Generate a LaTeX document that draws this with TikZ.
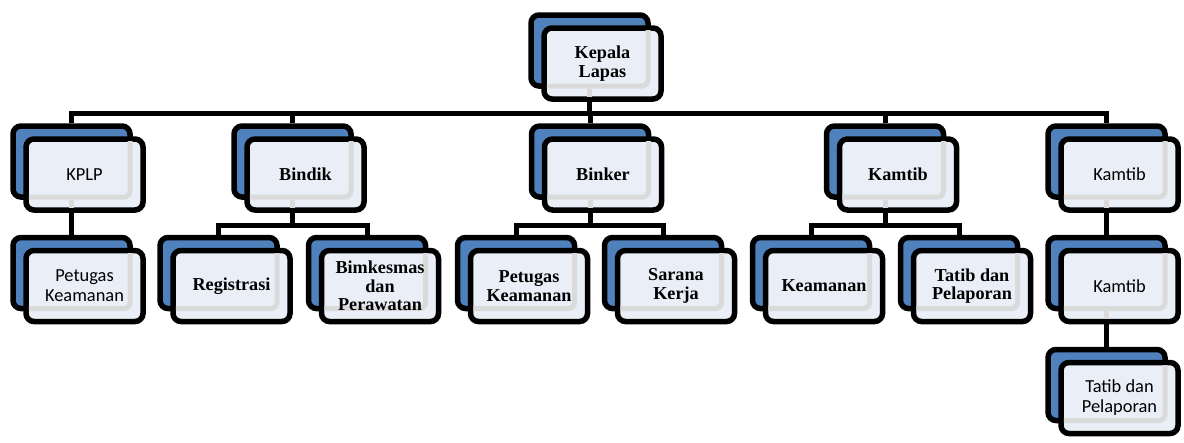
\documentclass[tikz,border=0pt]{standalone}
\usepackage{fontspec}
\setmainfont{Liberation Serif}
\newfontfamily\calfont{Carlito}
\usetikzlibrary{backgrounds,calc}
\definecolor{boxblue}{RGB}{79,129,189}
\definecolor{boxfront}{RGB}{234,239,247}
\definecolor{ghostgray}{RGB}{218,218,218}
\tikzset{
  backbox/.style={draw=black, line width=5.5pt, rounded corners=8pt, fill=boxblue,
    minimum width=117pt, minimum height=71pt, inner sep=0pt},
  frontbox/.style={draw=black, line width=5.5pt, rounded corners=8pt, fill=boxfront,
    minimum width=117pt, minimum height=71pt, inner sep=0pt},
  boxtext/.style={align=center, inner sep=0pt},
  serifbold/.style={font=\fontsize{18.2}{18.5}\selectfont\bfseries},
  sanslabel/.style={font=\calfont\fontsize{18.4}{20}\selectfont},
  conn/.style={draw=black, line width=5pt},
  ghost/.style={draw=ghostgray, line width=5pt, rounded corners=6pt},
}
% #1 name, #2 #3 centre of the back box, #4 text, #5 font style, #6 1 = has a child below
\newcommand\orgunit[6]{%
  \node[backbox] (#1-b) at (#2,#3) {};
  \node[frontbox] (#1) at (#2+13,#3+13) {};
  \begin{scope}
    \clip ([shift={(5.5pt,5.5pt)}]#1.south west) rectangle ([shift={(-5.5pt,-5.5pt)}]#1.north east);
    \draw[ghost] ([shift={(2.75pt,2.75pt)}]#1-b.south west) rectangle ([shift={(-2.75pt,-2.75pt)}]#1-b.north east);
    \ifnum#6=1
      \draw[ghost] (#1-b.south) -- (#1-b.south |- #1.south);
    \fi
  \end{scope}
  \node[boxtext,#5] (#1-t) at (#1.center) {#4};
}
\begin{document}
\begin{tikzpicture}[x=1pt,y=-1pt]
\useasboundingbox (0,0) rectangle (1184,442);
% top
\orgunit{kl}{589.5}{50.5}{Kepala\\Lapas}{serifbold}{1}
% row 2
\orgunit{kplp}{71.5}{161.5}{KPLP}{sanslabel}{1}
\orgunit{bindik}{292.5}{161.5}{Bindik}{serifbold}{1}
\orgunit{binker}{590}{161.5}{Binker}{serifbold}{1}
\orgunit{kamtibD}{885}{161.5}{Kamtib}{serifbold}{1}
\orgunit{kamtibE}{1106.5}{161.5}{Kamtib}{sanslabel}{1}
% row 3
\orgunit{pk1}{71.5}{273}{Petugas\\Keamanan}{sanslabel}{0}
\orgunit{reg}{218.5}{273}{Registrasi}{serifbold}{0}
\orgunit{bimk}{367}{273}{Bimkesmas\\dan\\Perawatan}{serifbold}{0}
\orgunit{pk2}{516}{273}{Petugas\\Keamanan}{serifbold}{0}
\orgunit{sk}{663}{273}{Sarana\\Kerja}{serifbold}{0}
\orgunit{keam}{811}{273}{Keamanan}{serifbold}{0}
\orgunit{tatibD}{959}{273}{Tatib dan\\Pelaporan}{serifbold}{0}
\orgunit{kamtibc}{1106.5}{273}{Kamtib}{sanslabel}{1}
% row 4
\orgunit{tatibc}{1106.5}{385}{Tatib dan\\Pelaporan}{sanslabel}{0}
\begin{pgfonlayer}{background}
  \coordinate (busA) at (0,113);
  \coordinate (busB) at (0,225);
  \draw[conn] (kl-b.center) -- (kl-b.center |- busA);
  \draw[conn] (kplp-b.north) |- (busA -| kamtibE-b.north) -- (kamtibE-b.north);
  \draw[conn] (bindik-b.north) -- (bindik-b.north |- busA);
  \draw[conn] (binker-b.north) -- (binker-b.north |- busA);
  \draw[conn] (kamtibD-b.north) -- (kamtibD-b.north |- busA);
  % KPLP
  \draw[conn] (kplp-b.center) -- (pk1-b.north);
  % Bindik
  \draw[conn] (bindik-b.center) -- (bindik-b.center |- busB);
  \draw[conn] (reg-b.north) |- (busB -| bimk-b.north) -- (bimk-b.north);
  % Binker
  \draw[conn] (binker-b.center) -- (binker-b.center |- busB);
  \draw[conn] (pk2-b.north) |- (busB -| sk-b.north) -- (sk-b.north);
  % Kamtib
  \draw[conn] (kamtibD-b.center) -- (kamtibD-b.center |- busB);
  \draw[conn] (keam-b.north) |- (busB -| tatibD-b.north) -- (tatibD-b.north);
  % Kamtib right column
  \draw[conn] (kamtibE-b.center) -- (tatibc-b.north);
\end{pgfonlayer}
\end{tikzpicture}
\end{document}
